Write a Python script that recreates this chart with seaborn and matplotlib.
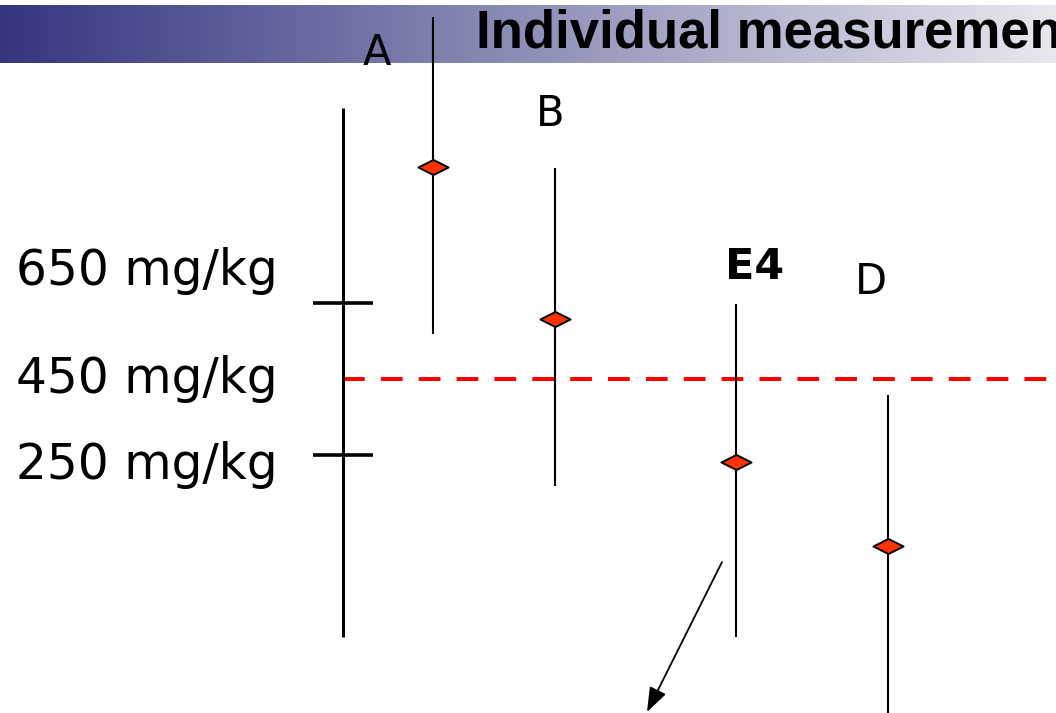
import numpy as np
import matplotlib
matplotlib.use("Agg")
import matplotlib.pyplot as plt
from matplotlib.path import Path
import seaborn as sns
import pandas as pd

sns.set_theme(style="white")
plt.rcParams["font.family"] = ["DejaVu Sans"]

# Measurement data (mg/kg): central value and interval per sample
samples = ["A", "B", "E4", "D"]
center = [1008, 608, 232, 10]
low = [568, 168, -229, -460]
high = [1403, 1005, 647, 408]

# Reference interval and its marked limits
ref_low, ref_high = -229, 1163
limit_values = [650, 250]
limit_labels = ["650 mg/kg", "250 mg/kg"]
target_value = 450
target_label = "450 mg/kg"

title = "Individual measurements"

# Layout (canvas units = pixels from the top-left corner)
W, H = 1056, 713
sample_x = [433, 555, 736, 888]
ref_x = 343
sample_label_pos = {"A": (377, 53), "B": (550, 114), "E4": (755, 267),
                    "D": (871, 282)}
value_label_rows = {650: 271, 450: 379, 250: 465}

# Vertical scale: 200 mg/kg spans 76 px, 450 mg/kg sits at row 379
scale = 200 / 76


def val(py):
    return target_value + (379 - py) * scale


fig = plt.figure(figsize=(W / 100, H / 100), dpi=100)
ax = fig.add_axes([0, 0, 1, 1])

# Title bar with horizontal colour gradient
c0 = np.array([52, 54, 128]) / 255
c1 = np.array([232, 232, 238]) / 255
t = np.linspace(0, 1, 512)[None, :, None]
grad = c0 + (c1 - c0) * t
ax.imshow(grad, extent=[0, W, val(63), val(5)], aspect="auto", zorder=0,
          interpolation="bilinear")
ax.text(476, val(48), title, fontsize=38, fontweight="bold",
        family="Liberation Sans", ha="left", va="baseline", color="black",
        zorder=5)

# Reference interval with its limit ticks
ax.vlines(ref_x, ref_low, ref_high, color="black", lw=2.2, zorder=3)
ax.hlines(limit_values, ref_x - 30, ref_x + 30, color="black", lw=2.6,
          zorder=3)

# Target line
ax.hlines(target_value, ref_x, W, color="#ff0000", lw=2.9,
          linestyle=(0, (5.4, 4.0)), zorder=2)

# Left-hand value labels
for v, lab in zip(limit_values + [target_value],
                  limit_labels + [target_label]):
    ax.text(16, val(value_label_rows[v]), lab, fontsize=35, ha="left",
            va="center", color="black")

# Sample intervals
ax.vlines(sample_x, low, high, color="black", lw=1.5, zorder=3)

# Central values as flat diamonds
diamond = Path([(-1, 0), (0, 0.5), (1, 0), (0, -0.5), (-1, 0)],
               [Path.MOVETO, Path.LINETO, Path.LINETO, Path.LINETO,
                Path.CLOSEPOLY])
df = pd.DataFrame({"x": sample_x, "y": center, "sample": samples})
sns.scatterplot(data=df, x="x", y="y", marker=diamond, s=470,
                color="#ff3300", edgecolor="black", linewidth=1.4,
                zorder=4, ax=ax, legend=False)
ax.set_xlim(0, W)
ax.set_ylim(val(H), val(0))
ax.axis("off")

# Sample labels
for s in samples:
    lx, ly = sample_label_pos[s]
    bold = s == "E4"
    ax.text(lx, val(ly), s, fontsize=31 if bold else 30,
            fontweight="bold" if bold else "normal",
            ha="center", va="center", color="black", zorder=5)

# Pointer arrow
ax.annotate("", xy=(647, val(712)), xytext=(722, val(562)),
            arrowprops=dict(arrowstyle="-|>,head_length=0.6,head_width=0.22",
                            lw=1.3, color="black", mutation_scale=25,
                            shrinkA=0, shrinkB=0),
            annotation_clip=False)

fig.savefig("out.png", dpi=100)
